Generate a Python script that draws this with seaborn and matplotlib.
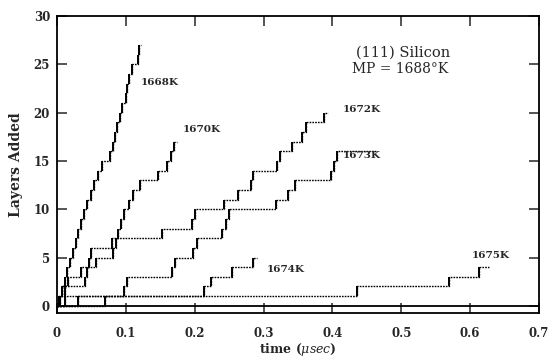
import matplotlib
matplotlib.use('Agg')
import matplotlib.pyplot as plt
import seaborn as sns
import pandas as pd

# ---- data (time in usec, layers added) ----
t_1668 = [0, 0.003, 0.007, 0.011, 0.015, 0.019, 0.023, 0.027, 0.031, 0.035, 0.039,
          0.044, 0.049, 0.054, 0.059, 0.066, 0.077, 0.081, 0.084, 0.087, 0.091,
          0.094, 0.100, 0.102, 0.105, 0.109, 0.117, 0.119, 0.122]
L_1668 = [0, 1, 2, 3, 4, 5, 6, 7, 8, 9, 10, 11, 12, 13, 14, 15, 16, 17, 18, 19, 20,
          21, 22, 23, 24, 25, 26, 27, 27]

t_1670 = [0, 0.003, 0.008, 0.016, 0.035, 0.056, 0.081, 0.085, 0.089, 0.093, 0.098,
          0.104, 0.110, 0.121, 0.147, 0.160, 0.165, 0.170, 0.175]
L_1670 = [0, 1, 2, 3, 4, 5, 6, 7, 8, 9, 10, 11, 12, 13, 14, 15, 16, 17, 17]

t_1672 = [0, 0.004, 0.012, 0.040, 0.043, 0.046, 0.049, 0.080, 0.152, 0.196, 0.200,
          0.243, 0.263, 0.282, 0.285, 0.320, 0.324, 0.342, 0.356, 0.362, 0.388, 0.394]
L_1672 = [0, 1, 2, 3, 4, 5, 6, 7, 8, 9, 10, 11, 12, 13, 14, 15, 16, 17, 18, 19, 20, 20]

t_1673 = [0, 0.012, 0.097, 0.102, 0.167, 0.172, 0.198, 0.203, 0.240, 0.245, 0.250,
          0.318, 0.336, 0.345, 0.398, 0.402, 0.407, 0.465]
L_1673 = [0, 1, 2, 3, 4, 5, 6, 7, 8, 9, 10, 11, 12, 13, 14, 15, 16, 16]

t_1674 = [0, 0.030, 0.213, 0.224, 0.254, 0.284, 0.290]
L_1674 = [0, 1, 2, 3, 4, 5, 5]

t_1675 = [0, 0.070, 0.436, 0.570, 0.613, 0.628]
L_1675 = [0, 1, 2, 3, 4, 4]

curve_names = ["1668K", "1670K", "1672K", "1673K", "1674K", "1675K"]

x_ticks = [0, 0.1, 0.2, 0.3, 0.4, 0.5, 0.6, 0.7]
x_tick_labels = ["0", "0.1", "0.2", "0.3", "0.4", "0.5", "0.6", "0.7"]
y_ticks = [0, 5, 10, 15, 20, 25, 30]
y_tick_labels = ["0", "5", "10", "15", "20", "25", "30"]

# ---- style ----
sns.set_style('ticks')
plt.rcParams['font.family'] = ['DejaVu Serif', 'DejaVu Sans']
plt.rcParams['mathtext.fontset'] = 'dejavuserif'

fig = plt.figure(figsize=(5.51, 3.59), dpi=100)
ax = fig.add_axes([0.1034, 0.128, 0.8748, 0.8274])

curves = [(t_1668, L_1668), (t_1670, L_1670), (t_1672, L_1672),
          (t_1673, L_1673), (t_1674, L_1674), (t_1675, L_1675)]

for name, (t, L) in zip(curve_names, curves):
    df = pd.DataFrame({'time': t, 'layers': L})
    sns.lineplot(data=df, x='time', y='layers', drawstyle='steps-post',
                 color='black', lw=1.0, linestyle=(0, (1.2, 0.8)),
                 estimator=None, sort=False, ax=ax)
    # solid risers at each step
    ax.vlines(t[1:-1], L[:-2], L[1:-1], colors='black', lw=1.4)

ax.axhline(0, color='black', lw=1.3)

ax.set_xlim(0, 0.7)
ax.set_ylim(-0.75, 30)
ax.set_xticks(x_ticks)
ax.set_xticklabels(x_tick_labels)
ax.set_yticks(y_ticks)
ax.set_yticklabels(y_tick_labels)
ax.tick_params(direction='in', length=7, width=1.1, top=True, right=True,
               labelsize=8.5)
ax.tick_params(axis='x', pad=10)
ax.tick_params(axis='y', pad=5)
for lab in ax.get_xticklabels() + ax.get_yticklabels():
    lab.set_fontweight('bold')
for sp in ax.spines.values():
    sp.set_linewidth(1.3)
    sp.set_color('black')

ax.set_ylabel('Layers Added', fontsize=10, fontweight='bold', labelpad=8)
ax.set_xlabel(r'time ($\mu sec$)', fontsize=9, fontweight='bold', labelpad=0.5)

# curve labels
lab_kw = dict(fontsize=7.5, fontweight='bold', ha='left', va='center')
ax.text(0.122, 23.1, curve_names[0], **lab_kw)
ax.text(0.183, 18.2, curve_names[1], **lab_kw)
ax.text(0.415, 20.3, curve_names[2], **lab_kw)
ax.text(0.415, 15.6, curve_names[3], **lab_kw)
ax.text(0.305, 3.8, curve_names[4], **lab_kw)
ax.text(0.603, 5.2, curve_names[5], **lab_kw)

ax.text(0.502, 26.2, '(111) Silicon', fontsize=10.5, ha='center', va='center')
ax.text(0.498, 24.5, 'MP = 1688°K', fontsize=10, ha='center', va='center')

fig.savefig('out.png', dpi=100)
